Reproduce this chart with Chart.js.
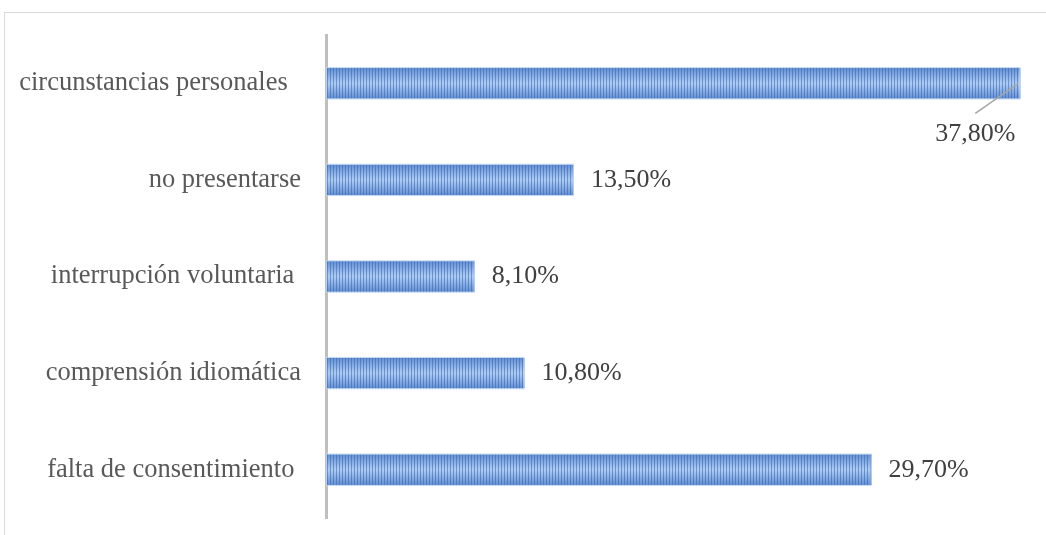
<!DOCTYPE html>
<html>
<head>
<meta charset="utf-8">
<script src="https://cdn.jsdelivr.net/npm/chart.js@4"></script>
<style>
  html, body { margin: 0; padding: 0; background: #fff; overflow: hidden; }
  #frame {
    position: absolute; left: 4px; top: 12px; width: 1100px; height: 600px;
    border: 1px solid #d9d9d9; box-sizing: border-box;
  }
  #motivosChart { position: absolute; left: 0; top: 0; }
</style>
</head>
<body>
<div id="frame"></div>
<canvas id="motivosChart" width="1046" height="535"></canvas>
<script>
// Motivos de abandono (%)
const categories = [
    'circunstancias personales  ',
    'no presentarse',
    'interrupción voluntaria ',
    'comprensión idiomática',
    'falta de consentimiento '
];
const values = [37.8, 13.5, 8.1, 10.8, 29.7];

const serif = "'Liberation Serif', 'Times New Roman', serif";

function pct(v) {
    return v.toFixed(2).replace('.', ',') + '%';
}

// Striped fill with a soft vertical shading, painted over each bar
const stripedBars = {
    id: 'stripedBars',
    afterDatasetsDraw(chart) {
        const ctx = chart.ctx;
        const meta = chart.getDatasetMeta(0);
        ctx.save();
        meta.data.forEach(bar => {
            const left = Math.min(bar.base, bar.x);
            const right = Math.max(bar.base, bar.x);
            const top = bar.y - bar.height / 2;
            const h = bar.height;
            const g = ctx.createLinearGradient(0, top, 0, top + h);
            g.addColorStop(0, '#6390d4');
            g.addColorStop(0.5, '#aecdf5');
            g.addColorStop(1, '#6390d4');
            ctx.fillStyle = g;
            ctx.fillRect(left, top, right - left, h);
            ctx.fillStyle = 'rgba(50, 90, 165, 0.5)';
            for (let px = left + 1; px < right - 1; px += 3) {
                ctx.fillRect(px, top, 1, h);
            }
            ctx.strokeStyle = 'rgba(190, 212, 240, 0.9)';
            ctx.lineWidth = 1;
            ctx.strokeRect(left + 0.5, top - 0.5, right - left - 1, h + 1);
        });
        ctx.restore();
    }
};

// Value labels; the longest bar gets its label below with a leader line
const valueLabels = {
    id: 'valueLabels',
    afterDatasetsDraw(chart) {
        const ctx = chart.ctx;
        const meta = chart.getDatasetMeta(0);
        ctx.save();
        ctx.font = '26px ' + serif;
        ctx.fillStyle = '#404040';
        ctx.textBaseline = 'middle';
        meta.data.forEach((bar, i) => {
            const text = pct(values[i]);
            if (i === 0) {
                ctx.strokeStyle = '#a6a6a6';
                ctx.lineWidth = 1.5;
                ctx.beginPath();
                ctx.moveTo(bar.x - 2, bar.y);
                ctx.lineTo(bar.x - 45, bar.y + 30);
                ctx.stroke();
                ctx.textAlign = 'center';
                ctx.fillText(text, bar.x - 45, bar.y + 51);
            } else {
                ctx.textAlign = 'left';
                ctx.fillText(text, bar.x + 17, bar.y);
            }
        });
        ctx.restore();
    }
};

const ctx = document.getElementById('motivosChart').getContext('2d');
new Chart(ctx, {
    type: 'bar',
    data: {
        labels: categories,
        datasets: [{
            data: values,
            backgroundColor: '#7aa6e0',
            borderWidth: 0,
            categoryPercentage: 1,
            barPercentage: 0.315
        }]
    },
    options: {
        indexAxis: 'y',
        responsive: false,
        animation: false,
        layout: { padding: { top: 35, bottom: 17, left: 0, right: 22 } },
        plugins: {
            legend: { display: false },
            tooltip: { enabled: false }
        },
        scales: {
            x: {
                display: false,
                min: 0,
                max: 38
            },
            y: {
                afterFit(scale) {
                    scale.width = 326;
                    scale.paddingTop = 0;
                    scale.paddingBottom = 0;
                },
                grid: { display: false, drawTicks: false },
                border: { display: true, color: '#bfbfbf', width: 3 },
                ticks: {
                    padding: 25,
                    color: '#595959',
                    font: { family: serif, size: 26.5 }
                }
            }
        }
    },
    plugins: [stripedBars, valueLabels]
});
</script>
</body>
</html>
